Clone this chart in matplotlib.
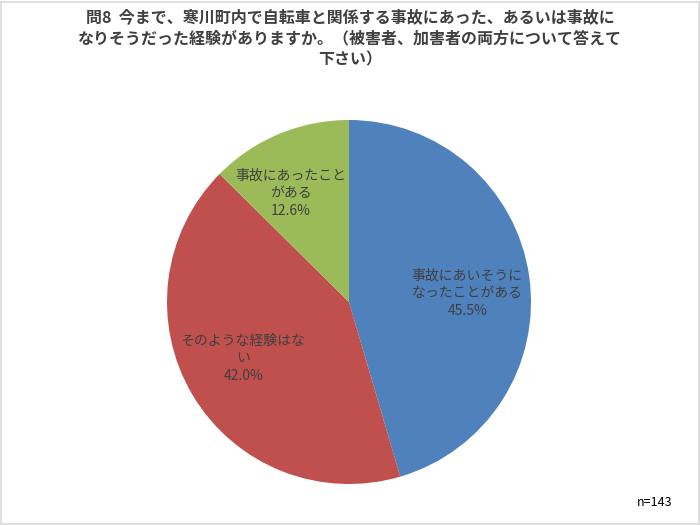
import matplotlib.pyplot as plt
from matplotlib.patches import Rectangle

plt.rcParams['font.family'] = ['Noto Sans CJK JP', 'DejaVu Sans']

labels = ['事故にあいそうに\nなったことがある', 'そのような経験はな\nい', '事故にあったこと\nがある']
values = [45.5, 42.0, 12.6]
colors = ['#4F81BD', '#C0504D', '#9BBB59']
title = ('問8  今まで、寒川町内で自転車と関係する事故にあった、あるいは事故に\n'
         'なりそうだった経験がありますか。（被害者、加害者の両方について答えて\n'
         '下さい）')
n_text = 'n=143'

# label positions inside the pie (radius units)
label_pos = [(0.65, 0.05), (-0.58, -0.31), (-0.32, 0.60)]

fig = plt.figure(figsize=(7, 5.25), dpi=100)
fig.patches.append(Rectangle((0.002, 0.002), 0.996, 0.995, transform=fig.transFigure,
                             fill=False, edgecolor='#D9D9D9', linewidth=1.2))

cx, cy, r = 349, 525 - 302, 182
ax = fig.add_axes([(cx - r) / 700, (cy - r) / 525, 2 * r / 700, 2 * r / 525])
ax.pie(values, colors=colors, startangle=90, counterclock=False, radius=1,
       wedgeprops=dict(linewidth=0))
ax.set_xlim(-1, 1)
ax.set_ylim(-1, 1)
ax.set_aspect('equal')
ax.axis('off')

for lab, v, (x, y) in zip(labels, values, label_pos):
    ax.text(x, y, f'{lab}\n{v:.1f}%', ha='center', va='center', fontsize=10,
            color='#404040', linespacing=1.35)

fig.text(0.5, 0.982, title, ha='center', va='top', fontsize=11.5, fontweight='bold',
         color='#404040', linespacing=1.4)
fig.text(0.935, 0.043, n_text, ha='center', va='center', fontsize=9, color='black')

fig.savefig('out.png', dpi=100)
